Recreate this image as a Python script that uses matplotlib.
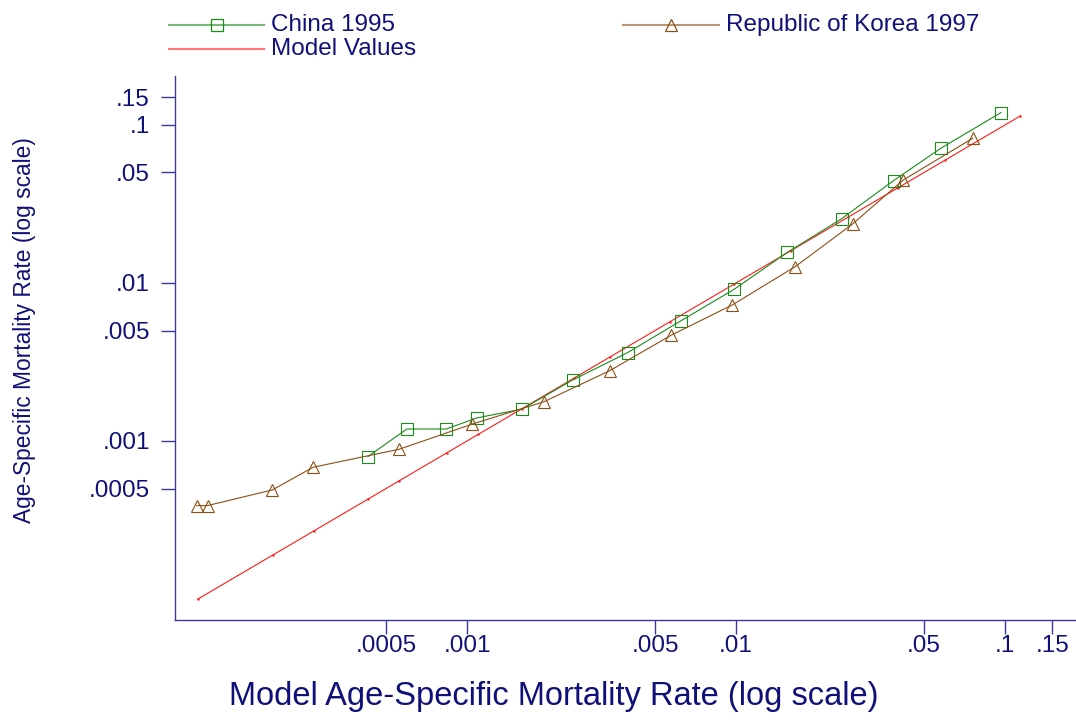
import matplotlib.pyplot as plt
from matplotlib.lines import Line2D

plt.rcParams['font.family'] = ['Liberation Sans', 'DejaVu Sans']

# age-specific mortality, observed vs model
china_x = [0.000428, 0.000597, 0.000836, 0.00109, 0.00160, 0.00247, 0.00395,
           0.00625, 0.00984, 0.0155, 0.0247, 0.0385, 0.0578, 0.0966]
china_y = [0.000796, 0.00119, 0.00119, 0.00140, 0.00159, 0.00243, 0.00362,
           0.00577, 0.00912, 0.0156, 0.0255, 0.0444, 0.0713, 0.1197]

korea_x = [0.000099, 0.0001086, 0.000189, 0.000268, 0.000558, 0.001047, 0.00193,
           0.00340, 0.00574, 0.00969, 0.0166, 0.0271, 0.0419, 0.0759]
korea_y = [0.000390, 0.000390, 0.000490, 0.000682, 0.000885, 0.00128, 0.00177,
           0.00279, 0.00467, 0.00726, 0.01268, 0.0236, 0.0449, 0.0824]

model_x = [0.0001, 0.00019, 0.00027, 0.00043, 0.00056, 0.00084, 0.0011, 0.0016,
           0.0025, 0.0034, 0.0057, 0.0098, 0.0160, 0.0260, 0.0400, 0.0600, 0.114]
model_y = [0.0001, 0.00019, 0.00027, 0.00043, 0.00056, 0.00084, 0.0011, 0.0016,
           0.0025, 0.0034, 0.0057, 0.0098, 0.0160, 0.0260, 0.0400, 0.0600, 0.114]

tick_vals = [0.0005, 0.001, 0.005, 0.01, 0.05, 0.1, 0.15]
tick_labels = ['.0005', '.001', '.005', '.01', '.05', '.1', '.15']

navy = '#10107a'
axis_col = '#3a3a96'
green = '#1a8c1a'
brown = '#8c4f14'
red = '#ff1a1a'

fig = plt.figure(figsize=(10.76, 7.21), dpi=100)
ax = fig.add_axes([175/1076, 1 - 620/721, 900/1076, 544/721])

ax.plot(model_x, model_y, color=red, lw=0.8, marker='.', ms=1.5)
ax.plot(china_x, china_y, color=green, lw=0.8, marker='s', ms=8,
        mfc='none', mec=green, mew=0.8)
ax.plot(korea_x, korea_y, color=brown, lw=0.8, marker='^', ms=8.5,
        mfc='none', mec=brown, mew=0.8)

ax.set_xscale('log')
ax.set_yscale('log')
ax.set_xlim(8.21e-5, 0.182)
ax.set_ylim(7.36e-5, 0.204)

ax.set_xticks(tick_vals)
ax.set_xticklabels(tick_labels)
ax.set_yticks(tick_vals)
ax.set_yticklabels(tick_labels)
ax.minorticks_off()

for s in ['top', 'right']:
    ax.spines[s].set_visible(False)
for s in ['left', 'bottom']:
    ax.spines[s].set_color(axis_col)
    ax.spines[s].set_linewidth(1.0)

ax.tick_params(axis='both', colors=axis_col, labelcolor=navy, labelsize=17.5,
               length=10, width=1.0, direction='out')
ax.tick_params(axis='x', pad=1)
ax.tick_params(axis='y', pad=8)

ax.set_xlabel('Model Age-Specific Mortality Rate (log scale)', fontsize=23.5, color=navy)
ax.xaxis.set_label_coords(0.421, -0.1415)
ax.xaxis.label.set_va('center')
ax.set_ylabel('Age-Specific Mortality Rate (log scale)', fontsize=16.4, color=navy)
ax.yaxis.set_label_coords(-0.1667, 0.533)
ax.yaxis.label.set_va('center')

# legend drawn in figure pixels
W, H = 1076, 721
def legend_entry(x0, x1, y, color, marker, text):
    fig.add_artist(Line2D([x0/W, x1/W], [1 - y/H, 1 - y/H], transform=fig.transFigure,
                          color=color, lw=1.5, alpha=0.6))
    if marker:
        fig.add_artist(Line2D([(x0 + x1)/2/W], [1 - y/H], transform=fig.transFigure,
                              marker=marker, ms=8, mfc='none', mec=color, mew=0.9, lw=0))
    fig.text((x1 + 7)/W, 1 - y/H, text, fontsize=17.5, color=navy, va='center', ha='left')

legend_entry(169, 264, 24.7, green, 's', 'China 1995')
legend_entry(623, 719, 24.7, brown, '^', 'Republic of Korea 1997')
legend_entry(169, 264, 48.7, red, None, 'Model Values')

fig.savefig('out.png', dpi=100)
